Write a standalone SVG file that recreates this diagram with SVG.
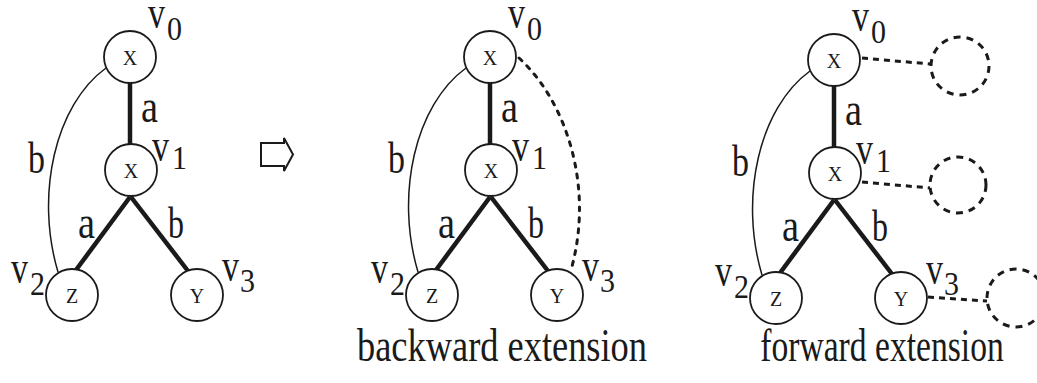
<svg xmlns="http://www.w3.org/2000/svg" width="1037" height="383" viewBox="0 0 1037 383">
<style>
.node{fill:#fff;stroke:#1a1a1a;stroke-width:1.8}
.nt{font-family:"Liberation Serif",serif;font-size:20px;fill:#1a1a1a;text-anchor:middle}
.lb{font-family:"Liberation Serif",serif;font-size:38px;fill:#1a1a1a}
.vv{font-family:"Liberation Serif",serif;font-size:38px;fill:#1a1a1a}
.sub{font-family:"Liberation Serif",serif;font-size:30px;fill:#1a1a1a}
.cap{font-family:"Liberation Serif",serif;font-size:40px;fill:#1a1a1a;text-anchor:middle}
.thick{stroke:#1a1a1a;stroke-width:4.5;fill:none}
.thin{stroke:#1a1a1a;stroke-width:1.5;fill:none}
.dot{stroke:#1a1a1a;stroke-width:3;fill:none;stroke-dasharray:4 7;stroke-linecap:round}
.dash{stroke:#1a1a1a;stroke-width:3;fill:none;stroke-dasharray:6 5}
.dnode{fill:none;stroke:#1a1a1a;stroke-width:3;stroke-dasharray:7 6}
</style>
<defs>
<g id="base">
  <g class="edges">
    <line class="thick" x1="130" y1="82" x2="130" y2="144"/>
    <line class="thick" x1="130" y1="197" x2="76" y2="270"/>
    <line class="thick" x1="131" y1="197" x2="188" y2="271"/>
    <path class="thin" d="M106 68 C55 105 35 195 58 272"/>
    <text class="lb" transform="translate(141,122) scale(1,1.2)" textLength="17" lengthAdjust="spacingAndGlyphs">a</text>
    <text class="lb" transform="translate(28,173) scale(1,1.15)" textLength="17" lengthAdjust="spacingAndGlyphs">b</text>
    <text class="lb" transform="translate(78,238) scale(1,1.2)" textLength="17" lengthAdjust="spacingAndGlyphs">a</text>
    <text class="lb" transform="translate(168,238) scale(1,1.15)" textLength="16" lengthAdjust="spacingAndGlyphs">b</text>
  </g>
  <g class="v0"><circle class="node" cx="130" cy="57" r="26"/><text class="nt" x="130" y="65">X</text>
    <text class="vv" transform="translate(148,28) scale(1,1.2)" textLength="17" lengthAdjust="spacingAndGlyphs">v</text><text class="sub" transform="translate(167,40) scale(1,1.1)">0</text></g>
  <g class="v1"><circle class="node" cx="131" cy="170" r="26"/><text class="nt" x="131" y="178">X</text>
    <text class="vv" transform="translate(152,161) scale(1,1.2)" textLength="17" lengthAdjust="spacingAndGlyphs">v</text><text class="sub" transform="translate(172,169) scale(1,1.1)">1</text></g>
  <g class="v2"><circle class="node" cx="72" cy="295" r="26"/><text class="nt" x="72" y="303">Z</text>
    <text class="vv" transform="translate(11,283) scale(1,1.2)" textLength="17" lengthAdjust="spacingAndGlyphs">v</text><text class="sub" transform="translate(30,295) scale(1,1.1)">2</text></g>
  <g class="v3"><circle class="node" cx="197" cy="295" r="26"/><text class="nt" x="197" y="303">Y</text>
    <text class="vv" transform="translate(222,281) scale(1,1.2)" textLength="17" lengthAdjust="spacingAndGlyphs">v</text><text class="sub" transform="translate(240,292) scale(1,1.1)">3</text></g>
</g>
</defs>
<g id="graph-original"><use href="#base"/></g>
<g id="arrow"><path d="M261 143 H284 V138 L293 154.5 L284 171 V166 H261 Z" fill="#fff" stroke="#1a1a1a" stroke-width="2"/></g>
<g id="graph-backward">
  <use href="#base" transform="translate(360,0)"/>
  <g id="connectors-backward"><path class="dot" d="M519 58 C565 100 595 185 571 270"/></g>
  <text class="cap" transform="translate(502,361) scale(0.91,1.15)">backward extension</text>
</g>
<g id="graph-forward">
  <use href="#base" transform="translate(704,3)"/>
  <g id="connectors-forward">
    <line class="dash" x1="862" y1="58" x2="930" y2="64"/>
    <line class="dash" x1="862" y1="182" x2="930" y2="188"/>
    <line class="dash" x1="928" y1="297" x2="987" y2="301"/>
  </g>
  <g id="ext0"><circle class="dnode" cx="960" cy="66" r="29"/></g>
  <g id="ext1"><circle class="dnode" cx="958" cy="185" r="28"/></g>
  <g id="ext2"><circle class="dnode" cx="1016" cy="298" r="29"/></g>
  <text class="cap" transform="translate(882,361) scale(0.84,1.15)">forward extension</text>
</g>
</svg>
